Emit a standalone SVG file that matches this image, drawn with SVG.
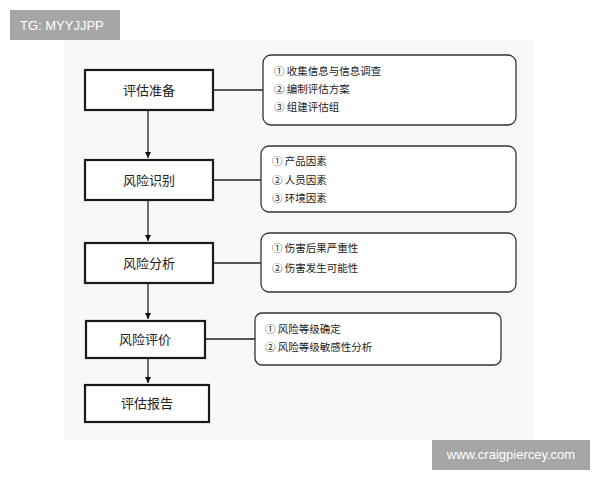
<svg xmlns="http://www.w3.org/2000/svg" width="600" height="480" viewBox="0 0 600 480">
<style>
.n{fill:#fff;stroke:#1a1a1a;stroke-width:2.2}
.d{fill:#fff;stroke:#333;stroke-width:1.3}
.t{font-family:"Noto Sans CJK SC","Liberation Sans",sans-serif;font-size:13px;fill:#222}
.s{font-family:"Noto Sans CJK SC","Liberation Sans",sans-serif;font-size:10.5px;fill:#222}
.w{font-family:"Liberation Sans",sans-serif;font-size:13px;fill:#fff}
.c{stroke:#222;stroke-width:1.3;fill:none}
</style>
<defs><marker id="a" markerWidth="8" markerHeight="8" refX="6" refY="4" orient="auto" markerUnits="userSpaceOnUse"><path d="M0,1 L6,4 L0,7Z" fill="#111"/></marker></defs>
<rect width="600" height="480" fill="#fff"/>
<rect x="64" y="40" width="470" height="400" fill="#f8f8f8"/>
<g id="connectors">
<path class="c" d="M148,110 V158" stroke-width="2" marker-end="url(#a)"/>
<path class="c" d="M148,200 V241" stroke-width="2" marker-end="url(#a)"/>
<path class="c" d="M148,283 V319" stroke-width="2" marker-end="url(#a)"/>
<path class="c" d="M148,358 V383" stroke-width="2" marker-end="url(#a)"/>
<path class="c" d="M213,90 H263"/>
<path class="c" d="M213,180 H261"/>
<path class="c" d="M213,263 H261"/>
<path class="c" d="M205,339 H255"/>
</g>
<g id="n1"><rect class="n" x="85" y="70" width="128" height="40"/><text class="t" x="149" y="95" text-anchor="middle">评估准备</text></g>
<g id="n2"><rect class="n" x="85" y="160" width="128" height="40"/><text class="t" x="149" y="185" text-anchor="middle">风险识别</text></g>
<g id="n3"><rect class="n" x="85" y="243" width="128" height="40"/><text class="t" x="149" y="268" text-anchor="middle">风险分析</text></g>
<g id="n4"><rect class="n" x="86" y="321" width="119" height="37"/><text class="t" x="145" y="344" text-anchor="middle">风险评价</text></g>
<g id="n5"><rect class="n" x="85" y="385" width="124" height="37"/><text class="t" x="147" y="408" text-anchor="middle">评估报告</text></g>
<g id="d1"><rect class="d" x="263" y="55" width="253" height="70" rx="8"/>
<text class="s" x="274" y="75">① 收集信息与信息调查</text><text class="s" x="274" y="93">② 编制评估方案</text><text class="s" x="274" y="111">③ 组建评估组</text></g>
<g id="d2"><rect class="d" x="261" y="146" width="255" height="66" rx="8"/>
<text class="s" x="272" y="165">① 产品因素</text><text class="s" x="272" y="184">② 人员因素</text><text class="s" x="272" y="202">③ 环境因素</text></g>
<g id="d3"><rect class="d" x="261" y="233" width="255" height="59" rx="8"/>
<text class="s" x="272" y="252">① 伤害后果严重性</text><text class="s" x="272" y="272">② 伤害发生可能性</text></g>
<g id="d4"><rect class="d" x="255" y="313" width="246" height="52" rx="7"/>
<text class="s" x="265" y="333">① 风险等级确定</text><text class="s" x="265" y="351">② 风险等级敏感性分析</text></g>
<g id="tg"><rect x="10" y="10" width="110" height="30" fill="#a6a6a6"/><text class="w" x="20" y="30">TG: MYYJJPP</text></g>
<g id="www"><rect x="432" y="440" width="158" height="30" fill="#a6a6a6"/><text class="w" x="511" y="459" text-anchor="middle">www.craigpiercey.com</text></g>
</svg>
